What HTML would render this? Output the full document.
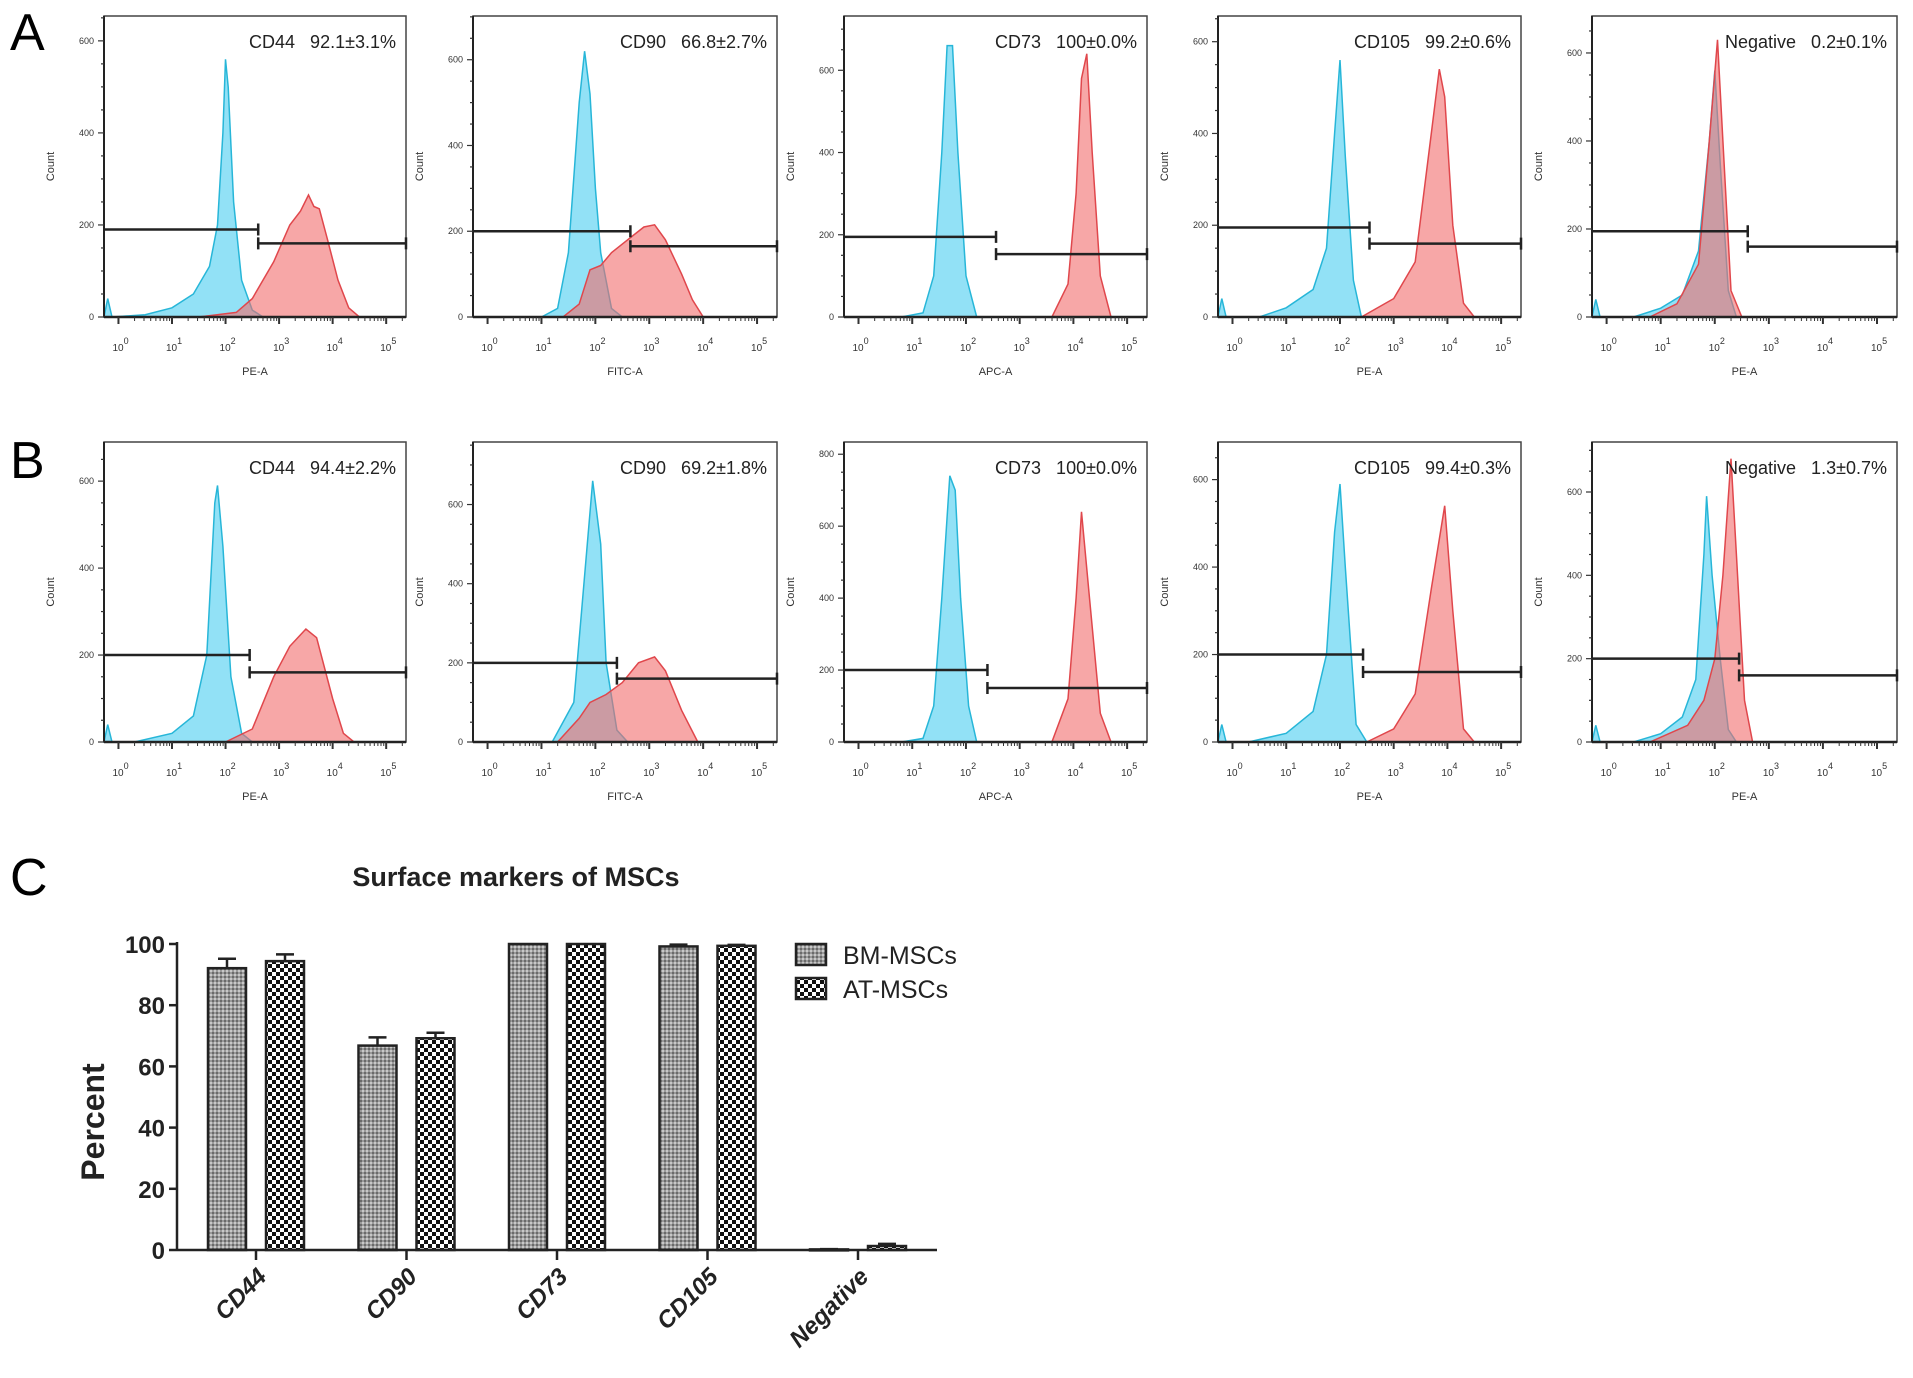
<!DOCTYPE html>
<html><head><meta charset="utf-8"><style>
html,body{margin:0;padding:0;background:#fff;}
svg{display:block;font-family:"Liberation Sans",Arial,sans-serif;}
</style></head><body>
<svg id="fig" width="1913" height="1378" viewBox="0 0 1913 1378" xmlns="http://www.w3.org/2000/svg">
<defs>
<pattern id="patBM" width="4" height="4" patternUnits="userSpaceOnUse"><rect width="4" height="4" fill="#9a9a9a"/><rect width="2" height="2" fill="#6a6a6a"/><rect x="2" y="2" width="2" height="2" fill="#c8c8c8"/></pattern>
<pattern id="patAT" width="8" height="8" patternUnits="userSpaceOnUse"><rect width="8" height="8" fill="#fff"/><rect width="4" height="4" fill="#111"/><rect x="4" y="4" width="4" height="4" fill="#111"/></pattern>
</defs>
<text x="10" y="50" font-size="52">A</text>
<text x="10" y="478" font-size="52">B</text>
<text x="10" y="895" font-size="52">C</text>
<g id="flow"></g>
<g id="bars"></g>
</svg>
<script>
// ---------- Flow cytometry histogram data ----------
const panelMarkers = ["CD44","CD90","CD73","CD105","Negative","CD44","CD90","CD73","CD105","Negative"];
const panelValues = ["92.1±3.1%","66.8±2.7%","100±0.0%","99.2±0.6%","0.2±0.1%","94.4±2.2%","69.2±1.8%","100±0.0%","99.4±0.3%","1.3±0.7%"];
const panelAxisLabels = ["PE-A","FITC-A","APC-A","PE-A","PE-A","PE-A","FITC-A","APC-A","PE-A","PE-A"];
const panelYMax = [654,702,732,656,684,690,758,834,686,720];
const panelYTicks = [[0,200,400,600],[0,200,400,600],[0,200,400,600],[0,200,400,600],[0,200,400,600],[0,200,400,600],[0,200,400,600],[0,200,400,600,800],[0,200,400,600],[0,200,400,600]];
const xTickDecades = [0,1,2,3,4,5];
const gateDecade = [2.61,2.65,2.56,2.55,2.61,2.45,2.4,2.4,2.43,2.45];
const gateLeftCount = [190,200,195,195,195,200,200,200,200,200];
const gateRightCount = [160,165,153,160,160,160,160,150,160,160];
const cyanCurves = [
 [[-0.27,0],[-0.2,40],[-0.12,0],[0.5,5],[1,20],[1.4,50],[1.7,110],[1.85,200],[1.95,400],[2.0,560],[2.05,500],[2.15,250],[2.3,80],[2.5,15],[2.7,0]],
 [[1.0,0],[1.3,20],[1.5,150],[1.7,500],[1.8,620],[1.9,520],[2.0,300],[2.1,150],[2.3,20],[2.5,0]],
 [[0.8,0],[1.2,10],[1.4,100],[1.55,400],[1.65,660],[1.75,660],[1.85,400],[2.0,100],[2.2,0]],
 [[-0.27,0],[-0.2,40],[-0.12,0],[0.5,0],[1,20],[1.5,60],[1.75,150],[1.9,400],[2.0,560],[2.1,350],[2.25,80],[2.4,0]],
 [[-0.27,0],[-0.2,40],[-0.12,0],[0.5,0],[1,20],[1.4,50],[1.7,150],[1.9,400],[2.0,560],[2.1,350],[2.25,60],[2.4,0]],
 [[-0.27,0],[-0.2,40],[-0.12,0],[0.3,0],[1,20],[1.4,60],[1.65,200],[1.8,550],[1.85,590],[1.95,450],[2.1,150],[2.3,20],[2.5,0]],
 [[1.2,0],[1.6,100],[1.85,500],[1.95,660],[2.1,500],[2.2,200],[2.4,30],[2.6,0]],
 [[0.8,0],[1.2,10],[1.4,100],[1.55,400],[1.7,740],[1.8,700],[1.9,400],[2.05,100],[2.2,0]],
 [[-0.27,0],[-0.2,40],[-0.12,0],[0.3,0],[1,20],[1.5,70],[1.75,200],[1.9,480],[2.0,590],[2.1,400],[2.3,40],[2.5,0]],
 [[-0.27,0],[-0.2,40],[-0.12,0],[0.5,0],[1,20],[1.4,60],[1.65,150],[1.8,450],[1.85,590],[1.95,400],[2.1,200],[2.25,30],[2.4,0]]
];
const redCurves = [
 [[1.5,0],[2.2,10],[2.5,40],[2.9,120],[3.2,200],[3.4,230],[3.55,265],[3.65,240],[3.75,235],[3.9,170],[4.1,80],[4.3,20],[4.5,0]],
 [[1.4,0],[1.7,30],[1.9,110],[2.1,120],[2.3,150],[2.5,170],[2.7,190],[2.9,210],[3.1,215],[3.3,180],[3.6,100],[3.8,40],[4.0,0]],
 [[3.6,0],[3.9,80],[4.05,300],[4.15,580],[4.25,640],[4.35,400],[4.5,100],[4.7,0]],
 [[2.4,0],[3.0,40],[3.4,120],[3.7,400],[3.85,540],[3.95,480],[4.1,200],[4.3,30],[4.5,0]],
 [[0.8,0],[1.3,30],[1.7,120],[1.9,400],[2.05,630],[2.15,400],[2.3,60],[2.5,0]],
 [[2.0,0],[2.5,30],[2.9,150],[3.2,220],[3.5,260],[3.7,240],[4.0,100],[4.2,20],[4.4,0]],
 [[1.3,0],[1.7,60],[1.9,100],[2.2,120],[2.5,150],[2.8,200],[3.1,215],[3.3,180],[3.6,80],[3.9,0]],
 [[3.6,0],[3.9,120],[4.05,400],[4.15,640],[4.3,400],[4.5,80],[4.7,0]],
 [[2.5,0],[3.0,30],[3.4,110],[3.7,350],[3.95,540],[4.1,300],[4.3,30],[4.5,0]],
 [[0.8,0],[1.5,40],[1.8,100],[2.0,200],[2.15,400],[2.3,680],[2.4,450],[2.55,100],[2.7,0]]
];
const frameLefts = [104,473,844,1218,1592];
const frameRights = [406,777,1147,1521,1897];
const rowTops = [16,442];
const rowBottoms = [317,742];

// ---------- Bar chart data ----------
const barCategories = ["CD44","CD90","CD73","CD105","Negative"];
const bmValues = [92.1,66.8,100,99.2,0.2];
const atValues = [94.4,69.2,100,99.4,1.3];
const bmErrors = [3.1,2.7,0,0.6,0.1];
const atErrors = [2.2,1.8,0,0.3,0.7];
const barYTicks = [0,20,40,60,80,100];

const NS="http://www.w3.org/2000/svg";
function mk(tag,attrs,parent,txt){const e=document.createElementNS(NS,tag);for(const k in attrs)e.setAttribute(k,attrs[k]);if(txt!==undefined)e.textContent=txt;parent.appendChild(e);return e;}

const flow=document.getElementById('flow');
for(let p=0;p<10;p++){
  const row=Math.floor(p/5), col=p%5;
  const L=frameLefts[col], R=frameRights[col], T=rowTops[row], B=rowBottoms[row];
  const xmin=-0.27, xmax=5.37;
  const xs=d=>L+(d-xmin)/(xmax-xmin)*(R-L);
  const ys=c=>B-c/panelYMax[p]*(B-T);
  const g=mk('g',{},flow);
  
  
  const pathOf=pts=>{let d='M'+xs(pts[0][0])+','+ys(0);pts.forEach(q=>{d+=' L'+xs(q[0]).toFixed(1)+','+ys(q[1]).toFixed(1);});d+=' L'+xs(pts[pts.length-1][0])+','+ys(0)+' Z';return d;};
  const cy=mk('path',{d:pathOf(cyanCurves[p]),fill:'#7fdcf5',stroke:'#27b6d8','stroke-width':1.5,'fill-opacity':0.85},g);
  
  
  const rd=mk('path',{d:pathOf(redCurves[p]),fill:'#f26d6d','fill-opacity':0.6,stroke:'#e0474c','stroke-width':1.5},g);
  
  
  const fr=mk('rect',{x:L,y:T,width:R-L,height:B-T,fill:'none',stroke:'#444','stroke-width':1.5},g);
  
  
  mk('line',{x1:L,y1:B,x2:R,y2:B,stroke:'#222','stroke-width':2.5},g);
  mk('line',{x1:L,y1:T,x2:L,y2:B,stroke:'#222','stroke-width':2},g);
  for(let c=0;c<=panelYMax[p];c+=50){const y=ys(c);const major=c%200===0;mk('line',{x1:L-(major?6:3),y1:y,x2:L,y2:y,stroke:'#333','stroke-width':1.2},g);}
  panelYTicks[p].forEach(v=>{const t=mk('text',{x:L-10,y:ys(v)+3,'font-size':9,'text-anchor':'end',fill:'#333'},g,String(v));});
  for(let d=0;d<=5;d++){for(let m=1;m<10;m++){const dd=d+Math.log10(m);if(dd>xmax)break;const x=xs(dd);mk('line',{x1:x,y1:B,x2:x,y2:B+(m===1?7:4),stroke:'#333','stroke-width':m===1?2:1},g);}}
  xTickDecades.forEach(d=>{const t=mk('text',{x:xs(d)-6,y:B+34,'font-size':10,fill:'#333'},g);
    const a=document.createElementNS(NS,'tspan');a.textContent='10';t.appendChild(a);const s=document.createElementNS(NS,'tspan');s.setAttribute('dy','-7');s.setAttribute('font-size','9');s.textContent=String(d);t.appendChild(s);});
  const xl=mk('text',{x:(L+R)/2,y:B+58,'font-size':11,'text-anchor':'middle',fill:'#333'},g,panelAxisLabels[p]);
  
  const yl=mk('text',{x:0,y:0,'font-size':11,'text-anchor':'middle',fill:'#333',transform:`translate(${L-50},${(T+B)/2}) rotate(-90)`},g,'Count');
  
  const gx=xs(gateDecade[p]), gy1=ys(gateLeftCount[p]), gy2=ys(gateRightCount[p]);
  const g1=mk('path',{d:`M${L},${gy1} H${gx} M${gx},${gy1-6} V${gy1+6}`,stroke:'#222','stroke-width':2.5,fill:'none'},g);
  
  const g2=mk('path',{d:`M${gx},${gy2} H${R} M${gx},${gy2-6} V${gy2+6} M${R},${gy2-6} V${gy2+6}`,stroke:'#222','stroke-width':2.5,fill:'none'},g);
  
  const ann=mk('text',{x:R-10,y:T+32,'font-size':18,'text-anchor':'end',fill:'#222'},g,panelMarkers[p]+'\u00a0\u00a0\u00a0'+panelValues[p]);
  
}

// ---------- Bar chart ----------
const bars=document.getElementById('bars');
const AX=177, Y0=1250, Y100=944, XEND=937;
const by=v=>Y0-v/100*(Y0-Y100);
const groupCenters=[256,406,556,707,858];
const gx=i=>groupCenters[0]+i*(groupCenters[4]-groupCenters[0])/(barCategories.length-1);
const tt=mk('text',{x:516,y:886,'font-size':27,'font-weight':'bold','text-anchor':'middle',fill:'#222'},bars,'Surface markers of MSCs');

const pc=mk('text',{x:0,y:0,'font-size':32,'font-weight':'bold','text-anchor':'middle',fill:'#222',transform:'translate(104,1122) rotate(-90)'},bars,'Percent');

barYTicks.forEach(v=>{mk('line',{x1:AX-8,y1:by(v),x2:AX,y2:by(v),stroke:'#222','stroke-width':2.5},bars);
  const t=mk('text',{x:AX-12,y:by(v)+9,'font-size':24,'font-weight':'bold','text-anchor':'end',fill:'#222'},bars,String(v));
  });
barCategories.forEach((c,i)=>{
  const cx=gx(i);
  [[bmValues,bmErrors,'url(#patBM)',-48,'bm'],[atValues,atErrors,'url(#patAT)',10,'at']].forEach(s=>{
    const v=s[0][i], e=s[1][i], x=cx+s[3], w=38;
    const r=mk('rect',{x:x,y:by(v),width:w,height:Math.max(Y0-by(v),1),fill:s[2],stroke:'#222','stroke-width':2.5},bars);
    
    if(e>0){const eb=mk('path',{d:`M${x+w/2},${by(v)} V${by(v+e)} M${x+w/2-9},${by(v+e)} H${x+w/2+9}`,stroke:'#222','stroke-width':2.5,fill:'none'},bars);
      }
  });
  mk('line',{x1:cx,y1:Y0,x2:cx,y2:Y0+10,stroke:'#222','stroke-width':2.5},bars);
  const t=mk('text',{x:0,y:0,'font-size':24,'font-weight':'bold','font-style':'italic','text-anchor':'end',fill:'#222',transform:`translate(${cx+12},${Y0+28}) rotate(-45)`},bars,c);
  
});
mk('line',{x1:AX,y1:Y100-2,x2:AX,y2:Y0,stroke:'#222','stroke-width':2.5},bars);
mk('line',{x1:AX,y1:Y0,x2:XEND,y2:Y0,stroke:'#222','stroke-width':2.5},bars);
const leg=[["BM-MSCs",'url(#patBM)',944],["AT-MSCs",'url(#patAT)',978]];
leg.forEach(l=>{const r=mk('rect',{x:796,y:l[2],width:30,height:21,fill:l[1],stroke:'#222','stroke-width':2.5},bars);
  
  const t=mk('text',{x:843,y:l[2]+20,'font-size':25,fill:'#222'},bars,l[0]);
  });
</script>
</body></html>
